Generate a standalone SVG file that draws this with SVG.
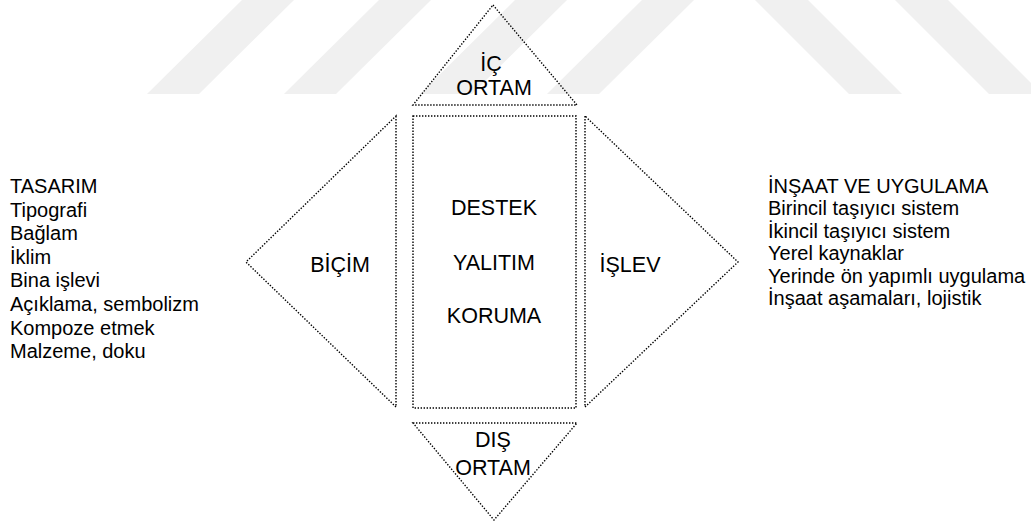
<svg xmlns="http://www.w3.org/2000/svg" width="1031" height="523" viewBox="0 0 1031 523">
  <style>
    .shape { fill: none; stroke: #000; stroke-width: 1.4; stroke-dasharray: 1.4 1.6; }
    .label { font-family: "Liberation Sans", Arial, sans-serif; font-size: 21.5px; fill: #000; text-anchor: middle; }
    .list { font-family: "Liberation Sans", Arial, sans-serif; font-size: 20px; fill: #000; }
    .mark { fill: #f0f0f0; }
  </style>

  <rect width="1031" height="523" fill="#fff"/>

  <!-- faint background stripes -->
  <g id="watermark">
    <polygon class="mark" points="242,0 294,0 199,94 147,94"/>
    <polygon class="mark" points="379,0 431,0 336,94 284,94"/>
    <polygon class="mark" points="515,0 567,0 472,94 420,94"/>
    <polygon class="mark" points="642,0 694,0 599,94 547,94"/>
    <polygon class="mark" points="755,0 808,0 902,94 849,94"/>
    <polygon class="mark" points="895,0 948,0 1042,94 989,94"/>
  </g>

  <!-- top triangle -->
  <g id="ic-ortam">
    <polygon class="shape" points="493,5 577,105 413,105"/>
    <text class="label" x="491" y="71">İÇ</text>
    <text class="label" x="494" y="95">ORTAM</text>
  </g>

  <!-- central box -->
  <g id="cekirdek">
    <rect class="shape" x="413" y="116" width="163" height="292"/>
    <text class="label" x="494" y="215">DESTEK</text>
    <text class="label" x="494" y="270">YALITIM</text>
    <text class="label" x="494" y="323">KORUMA</text>
  </g>

  <!-- left triangle -->
  <g id="bicim">
    <polygon class="shape" points="396,116 396,407 246,262"/>
    <text class="label" x="340" y="272">BİÇİM</text>
  </g>

  <!-- right triangle -->
  <g id="islev">
    <polygon class="shape" points="585,116 585,407 738,262"/>
    <text class="label" x="630" y="272">İŞLEV</text>
  </g>

  <!-- bottom triangle -->
  <g id="dis-ortam">
    <polygon class="shape" points="413,423 577,423 494,520"/>
    <text class="label" x="493" y="447">DIŞ</text>
    <text class="label" x="493" y="475">ORTAM</text>
  </g>

  <!-- design list -->
  <g id="tasarim" class="list">
    <text x="10" y="193">TASARIM</text>
    <text x="10" y="216.6">Tipografi</text>
    <text x="10" y="240.2">Bağlam</text>
    <text x="10" y="263.8">İklim</text>
    <text x="10" y="287.4">Bina işlevi</text>
    <text x="10" y="311">Açıklama, sembolizm</text>
    <text x="10" y="334.6">Kompoze etmek</text>
    <text x="10" y="358.2">Malzeme, doku</text>
  </g>

  <!-- construction list -->
  <g id="insaat" class="list">
    <text x="768" y="193">İNŞAAT VE UYGULAMA</text>
    <text x="768" y="215.4">Birincil taşıyıcı sistem</text>
    <text x="768" y="237.8">İkincil taşıyıcı sistem</text>
    <text x="768" y="260.2">Yerel kaynaklar</text>
    <text x="768" y="282.6">Yerinde ön yapımlı uygulama</text>
    <text x="768" y="305">İnşaat aşamaları, lojistik</text>
  </g>
</svg>
